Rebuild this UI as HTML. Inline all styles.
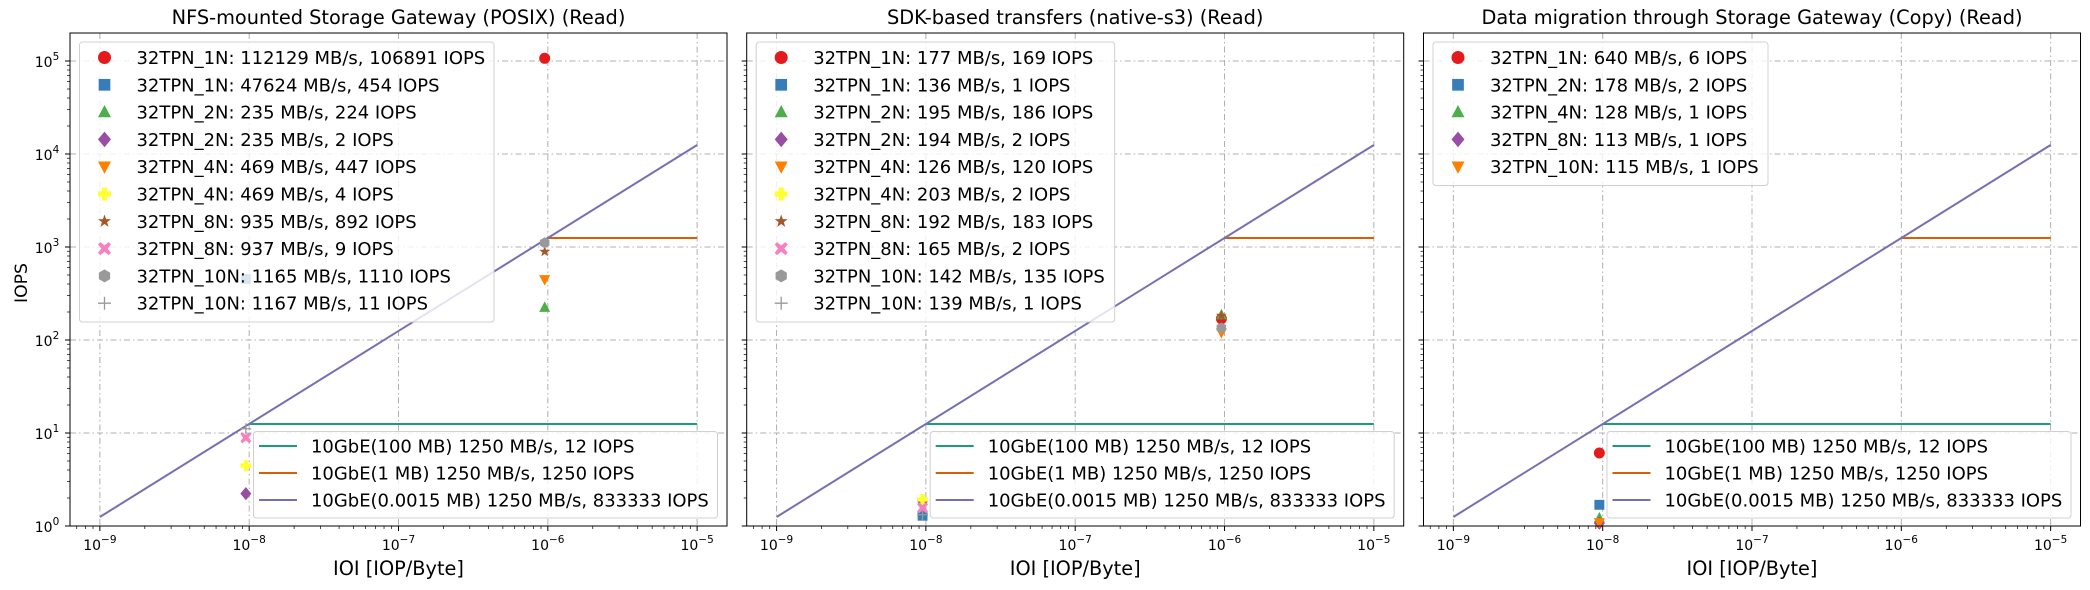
<!DOCTYPE html>
<html><head><meta charset="utf-8"><style>
html,body{margin:0;padding:0;background:#fff;}
svg{display:block;font-family:"DejaVu Sans","Liberation Sans",sans-serif;}
</style></head><body>
<svg id="chart" width="2090" height="590" viewBox="0 0 2090 590" xmlns="http://www.w3.org/2000/svg"></svg>
<script>
// ---- data ----
const panelTitles = ["NFS-mounted Storage Gateway (POSIX) (Read)", "SDK-based transfers (native-s3) (Read)", "Data migration through Storage Gateway (Copy) (Read)"];
const p1Labels = ["32TPN_1N: 112129 MB/s, 106891 IOPS","32TPN_1N: 47624 MB/s, 454 IOPS","32TPN_2N: 235 MB/s, 224 IOPS","32TPN_2N: 235 MB/s, 2 IOPS","32TPN_4N: 469 MB/s, 447 IOPS","32TPN_4N: 469 MB/s, 4 IOPS","32TPN_8N: 935 MB/s, 892 IOPS","32TPN_8N: 937 MB/s, 9 IOPS","32TPN_10N: 1165 MB/s, 1110 IOPS","32TPN_10N: 1167 MB/s, 11 IOPS"];
const p1Ioi = [9.53e-7, 9.5e-9, 9.53e-7, 9.5e-9, 9.53e-7, 9.5e-9, 9.53e-7, 9.5e-9, 9.53e-7, 9.5e-9];
const p1Iops = [106891, 454, 224, 2.23, 447, 4.46, 892, 8.9, 1110, 11.1];
const p2Labels = ["32TPN_1N: 177 MB/s, 169 IOPS","32TPN_1N: 136 MB/s, 1 IOPS","32TPN_2N: 195 MB/s, 186 IOPS","32TPN_2N: 194 MB/s, 2 IOPS","32TPN_4N: 126 MB/s, 120 IOPS","32TPN_4N: 203 MB/s, 2 IOPS","32TPN_8N: 192 MB/s, 183 IOPS","32TPN_8N: 165 MB/s, 2 IOPS","32TPN_10N: 142 MB/s, 135 IOPS","32TPN_10N: 139 MB/s, 1 IOPS"];
const p2Ioi = [9.53e-7, 9.5e-9, 9.53e-7, 9.5e-9, 9.53e-7, 9.5e-9, 9.53e-7, 9.5e-9, 9.53e-7, 9.5e-9];
const p2Iops = [169, 1.29, 186, 1.84, 120, 1.93, 183, 1.57, 135, 1.32];
const p3Labels = ["32TPN_1N: 640 MB/s, 6 IOPS","32TPN_2N: 178 MB/s, 2 IOPS","32TPN_4N: 128 MB/s, 1 IOPS","32TPN_8N: 113 MB/s, 1 IOPS","32TPN_10N: 115 MB/s, 1 IOPS"];
const p3Ioi = [9.5e-9, 9.5e-9, 9.5e-9, 9.5e-9, 9.5e-9];
const p3Iops = [6.1, 1.69, 1.22, 1.07, 1.09];
const p3Markers = ["o","s","^","D","v"];
const p3Colors = ["#e41a1c","#377eb8","#4daf4a","#984ea3","#ff7f00"];
const markers10 = ["o","s","^","D","v","P","*","X","h","+"];
const colors10 = ["#e41a1c","#377eb8","#4daf4a","#984ea3","#ff7f00","#ffff33","#a65628","#f781bf","#999999","#999999"];
const refLabels = ["10GbE(100 MB) 1250 MB/s, 12 IOPS","10GbE(1 MB) 1250 MB/s, 1250 IOPS","10GbE(0.0015 MB) 1250 MB/s, 833333 IOPS"];
const refColors = ["#1b9e77","#d95f02","#7570b3"];
const refX0 = [1e-8, 1e-6, 1e-9];
const refX1 = [1e-5, 1e-5, 1e-5];
const refY0 = [12.5, 1250, 1.25];
const refY1 = [12.5, 1250, 12500];
const xTickExp = [-9,-8,-7,-6,-5];
const yTickExp = [0,1,2,3,4,5];

// ---- layout ----
const NS="http://www.w3.org/2000/svg";
const svg=document.getElementById('chart');
function el(tag,attrs,parent){const e=document.createElementNS(NS,tag);for(const k in attrs)e.setAttribute(k,attrs[k]);(parent||svg).appendChild(e);return e;}
const panelLeft=[70,746.7,1423.5], PW=657, TOP=33, BOT=526;
const XMIN=-9.2, XMAX=-4.8, YMIN=0, YMAX=5.301;
const legendTexts=[], titleTexts=[], xlabelTexts=[], tickTexts=[];

function markerShape(g,m,cx,cy,color,s){
  s=s||5.5;let e;
  if(m==="o") e=el('circle',{cx,cy,r:s},g);
  else if(m==="s") e=el('rect',{x:cx-s*0.9,y:cy-s*0.9,width:s*1.8,height:s*1.8},g);
  else if(m==="^") e=el('polygon',{points:`${cx},${cy-s*1.1} ${cx-s},${cy+s*0.8} ${cx+s},${cy+s*0.8}`},g);
  else if(m==="v") e=el('polygon',{points:`${cx},${cy+s*1.1} ${cx-s},${cy-s*0.8} ${cx+s},${cy-s*0.8}`},g);
  else if(m==="D") e=el('polygon',{points:`${cx},${cy-s*1.2} ${cx+s},${cy} ${cx},${cy+s*1.2} ${cx-s},${cy}`},g);
  else if(m==="P"){const a=s*0.4,b=s;e=el('polygon',{points:`${cx-a},${cy-b} ${cx+a},${cy-b} ${cx+a},${cy-a} ${cx+b},${cy-a} ${cx+b},${cy+a} ${cx+a},${cy+a} ${cx+a},${cy+b} ${cx-a},${cy+b} ${cx-a},${cy+a} ${cx-b},${cy+a} ${cx-b},${cy-a} ${cx-a},${cy-a}`},g);}
  else if(m==="X"){const a=s*0.35,b=s;e=el('polygon',{points:`${cx-b+a},${cy-b} ${cx},${cy-a*1.4} ${cx+b-a},${cy-b} ${cx+b},${cy-b+a} ${cx+a*1.4},${cy} ${cx+b},${cy+b-a} ${cx+b-a},${cy+b} ${cx},${cy+a*1.4} ${cx-b+a},${cy+b} ${cx-b},${cy+b-a} ${cx-a*1.4},${cy} ${cx-b},${cy-b+a}`},g);}
  else if(m==="*"){let p=[];for(let i=0;i<10;i++){const r=i%2?s*0.42:s*1.05;const a=-Math.PI/2+i*Math.PI/5;p.push((cx+r*Math.cos(a)).toFixed(2)+','+(cy+r*Math.sin(a)).toFixed(2));}e=el('polygon',{points:p.join(' ')},g);}
  else if(m==="h"){let p=[];for(let i=0;i<6;i++){const a=-Math.PI/2+i*Math.PI/3;p.push((cx+s*Math.cos(a)).toFixed(2)+','+(cy+s*Math.sin(a)).toFixed(2));}e=el('polygon',{points:p.join(' ')},g);}
  else if(m==="+"){e=el('path',{d:`M${cx-s} ${cy}H${cx+s}M${cx} ${cy-s}V${cy+s}`,stroke:color,'stroke-width':1.3,fill:'none'},g);return e;}
  e.setAttribute('fill',color);
  return e;
}

function drawPanel(pi,labels,ioi,iops,mk,cols){
  const L=panelLeft[pi],R=L+PW;
  const xs=v=>L+(Math.log10(v)-XMIN)/(XMAX-XMIN)*PW;
  const ys=v=>BOT-(Math.log10(v)-YMIN)/(YMAX-YMIN)*(BOT-TOP);
  const g=el('g',{});
  
  
  xTickExp.forEach(e=>{const x=xs(Math.pow(10,e));const l=el('line',{x1:x,x2:x,y1:TOP,y2:BOT,stroke:'#b0b0b0','stroke-width':1,'stroke-dasharray':'6 3 1.5 3'},g);});
  yTickExp.forEach(e=>{const y=ys(Math.pow(10,e));const l=el('line',{x1:L,x2:R,y1:y,y2:y,stroke:'#b0b0b0','stroke-width':1,'stroke-dasharray':'6 3 1.5 3'},g);});
  for(let e=-10;e<=-5;e++){for(let k=1;k<10;k++){const v=k*Math.pow(10,e);const lv=Math.log10(v);if(lv<XMIN||lv>XMAX)continue;const x=xs(v);el('line',{x1:x,x2:x,y1:BOT,y2:BOT+(k===1?5:3),stroke:'#000','stroke-width':k===1?1:0.7},g);}}
  xTickExp.forEach(e=>{const x=xs(Math.pow(10,e));const t=el('text',{x:x,y:550,'text-anchor':'middle','font-size':14},g);t.appendChild(document.createTextNode('10'));const sp=el('tspan',{dy:-7,'font-size':10.5},t);sp.textContent='\u2212'+Math.abs(e);});
  for(let e=0;e<=5;e++){for(let k=1;k<10;k++){const v=k*Math.pow(10,e);const lv=Math.log10(v);if(lv>YMAX)continue;const y=ys(v);el('line',{x1:L,x2:L-(k===1?5:3),y1:y,y2:y,stroke:'#000','stroke-width':k===1?1:0.7},g);}}
  if(pi===0){yTickExp.forEach(e=>{const y=ys(Math.pow(10,e));const t=el('text',{x:L-23,y:y+6,'text-anchor':'middle','font-size':14},g);t.appendChild(document.createTextNode('10'));const sp=el('tspan',{dy:-7,'font-size':10.5},t);sp.textContent=String(e);});}
  refLabels.forEach((lab,i)=>{const l=el('line',{x1:xs(refX0[i]),y1:ys(refY0[i]),x2:xs(refX1[i]),y2:ys(refY1[i]),stroke:refColors[i],'stroke-width':2},g);});
  ioi.forEach((v,i)=>{const m=markerShape(g,mk[i],xs(v),ys(iops[i]),cols[i],5.5);});
  const sp=el('rect',{x:L,y:TOP,width:PW,height:BOT-TOP,fill:'none',stroke:'#000','stroke-width':1},g);
  
  const tt=el('text',{x:L+PW/2,y:24,'text-anchor':'middle','font-size':18},g);
  tt.textContent=panelTitles[pi];
  titleTexts.push(tt);
  const xl=el('text',{x:L+PW/2,y:575,'text-anchor':'middle','font-size':20},g);
  xl.textContent='IOI [IOP/Byte]';
  xlabelTexts.push(xl);
  const lw=[414.5,358.5,335][pi];
  const lg=el('g',{},g);
  el('rect',{x:L+9.5,y:42,width:lw,height:labels.length*27.3+7,rx:3,fill:'#fff','fill-opacity':0.8,stroke:'#d0d0d0'},lg);
  labels.forEach((lab,i)=>{const cy=57.5+i*27.3;markerShape(lg,mk[i],L+34.5,cy,cols[i],6.5);const t=el('text',{x:L+66.5,y:cy+6.5,'font-size':19},lg);t.textContent=lab;legendTexts.push(t);});
  const lg2=el('g',{},g);
  el('rect',{x:L+183.5,y:431.5,width:464,height:86.5,rx:3,fill:'#fff','fill-opacity':0.8,stroke:'#d0d0d0'},lg2);
  refLabels.forEach((lab,i)=>{const cy=446+i*27;el('line',{x1:L+189,x2:L+227,y1:cy,y2:cy,stroke:refColors[i],'stroke-width':2},lg2);const t=el('text',{x:L+241,y:cy+6.5,'font-size':19},lg2);t.textContent=lab;legendTexts.push(t);});
}
drawPanel(0,p1Labels,p1Ioi,p1Iops,markers10,colors10);
drawPanel(1,p2Labels,p2Ioi,p2Iops,markers10,colors10);
drawPanel(2,p3Labels,p3Ioi,p3Iops,p3Markers,p3Colors);
const yl=el('text',{x:0,y:0,'text-anchor':'middle','font-size':20,transform:'translate(27,283) rotate(-90)'});


yl.textContent='IOPS';

// fit font sizes to measured reference widths
function fit(list,refEl,target){
  try{const w=refEl.getComputedTextLength();if(!w)return;const fs=parseFloat(refEl.getAttribute('font-size'))*target/w;list.forEach(t=>t.setAttribute('font-size',fs.toFixed(2)));}catch(e){}
}
fit(legendTexts,legendTexts[0],349);
fit(titleTexts,titleTexts[0],454);
fit(xlabelTexts,xlabelTexts[0],131);
fit([yl],yl,40);
</script>
</body></html>
